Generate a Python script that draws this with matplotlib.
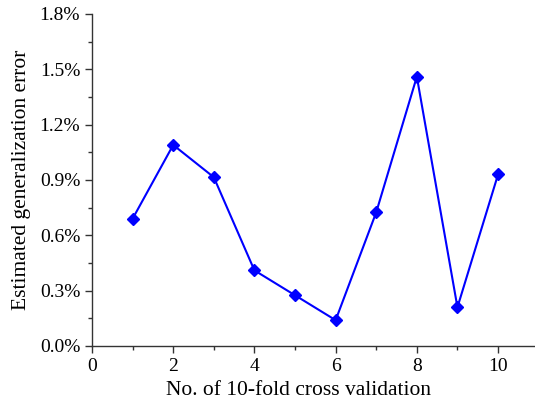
import matplotlib.pyplot as plt
from matplotlib.ticker import MultipleLocator, FuncFormatter

# Data
folds = [1, 2, 3, 4, 5, 6, 7, 8, 9, 10]
errors = [0.69, 1.09, 0.915, 0.41, 0.275, 0.14, 0.725, 1.46, 0.21, 0.93]  # percent

plt.rcParams['font.family'] = ['Liberation Serif', 'DejaVu Serif']

fig = plt.figure(figsize=(5.35, 4.08), dpi=100)
ax = fig.add_axes([92 / 535, 1 - 346 / 408, 443 / 535, 332 / 408])

ax.plot(folds, errors, color='#0000ff', lw=1.5, marker='D', markersize=6)

ax.set_xlim(0, 10.91)
ax.set_ylim(0, 1.8)
ax.xaxis.set_major_locator(MultipleLocator(2))
ax.xaxis.set_minor_locator(MultipleLocator(1))
ax.yaxis.set_major_locator(MultipleLocator(0.3))
ax.yaxis.set_minor_locator(MultipleLocator(0.15))
ax.yaxis.set_major_formatter(FuncFormatter(lambda v, p: f'{v:.1f}%'))

ax.spines['top'].set_visible(False)
ax.spines['right'].set_visible(False)
for s in ['left', 'bottom']:
    ax.spines[s].set_linewidth(1.0)
    ax.spines[s].set_color('#333333')

ax.tick_params(which='major', direction='out', length=5, width=1, labelsize=14, colors='#333333')
ax.tick_params(which='minor', direction='out', length=3, width=1, colors='#333333')
ax.tick_params(labelcolor='black')

ax.set_xlabel('No. of 10-fold cross validation', fontsize=15.5, labelpad=4)
ax.set_ylabel('Estimated generalization error', fontsize=15.5, labelpad=6)
# label sits a bit left of the axes centre in the original
ax.xaxis.set_label_coords(0.467, -0.105)

fig.savefig('out.png', dpi=100)
